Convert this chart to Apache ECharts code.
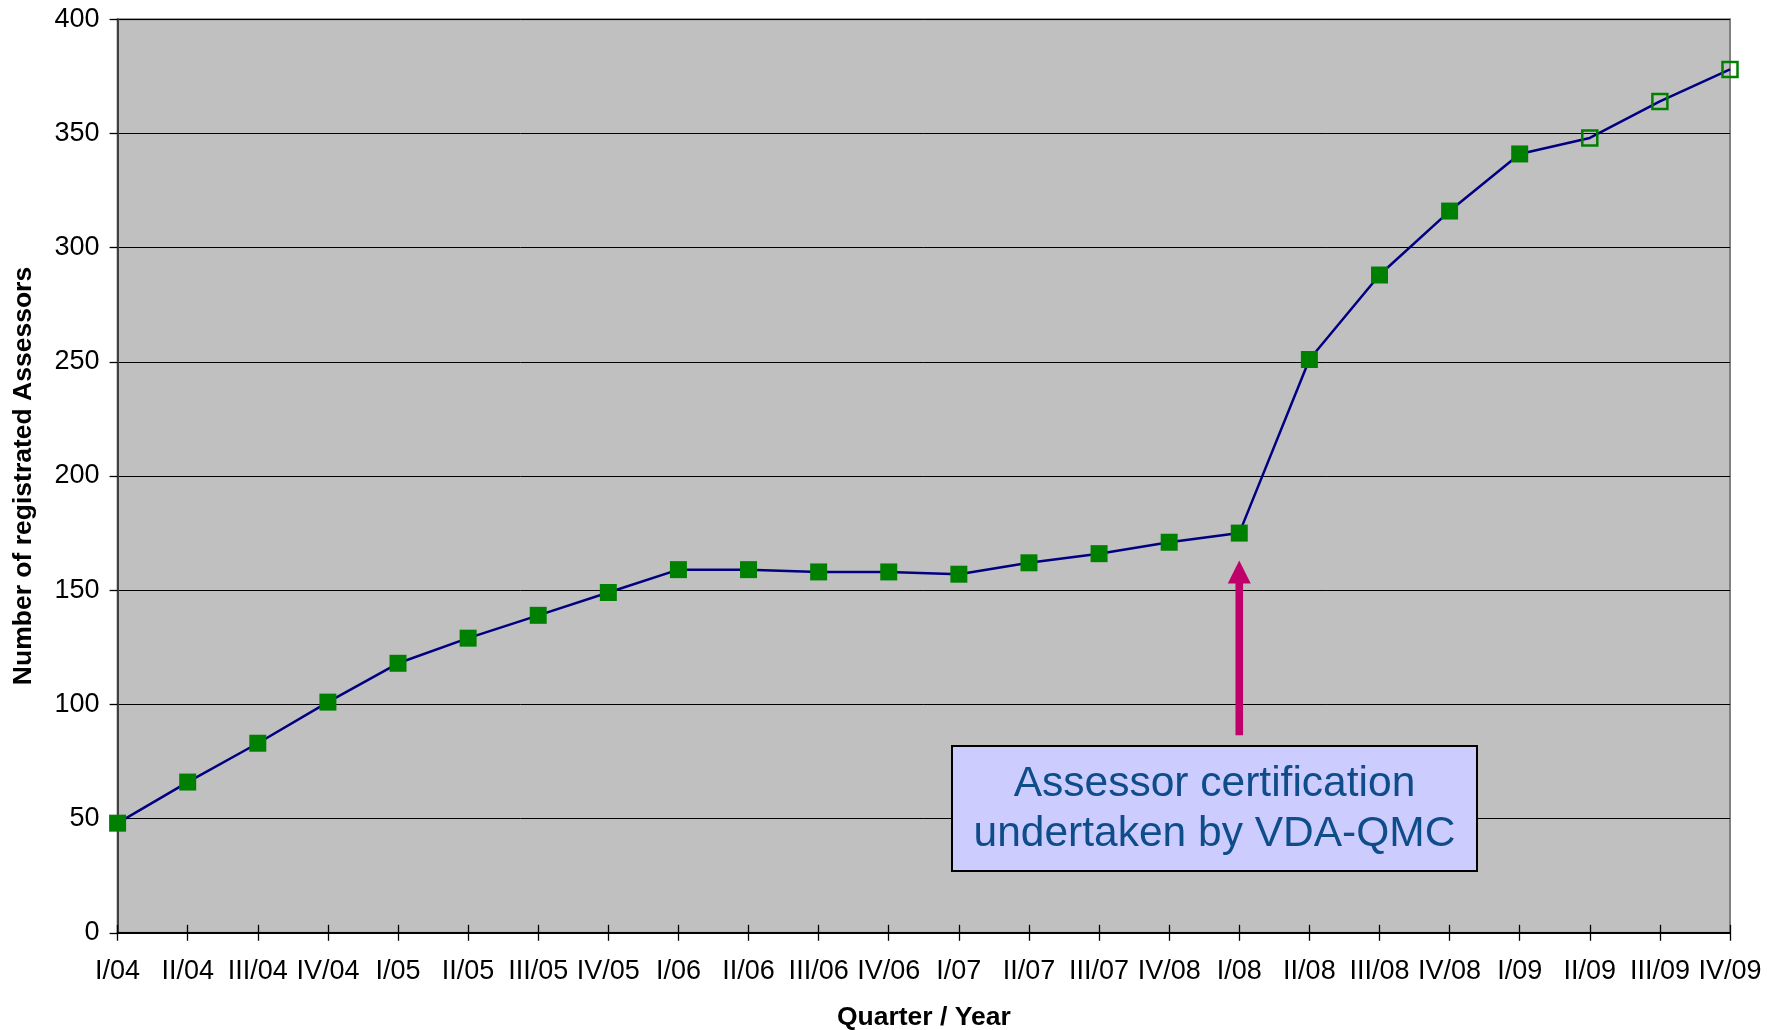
<!DOCTYPE html>
<html>
<head>
<meta charset="utf-8">
<script src="https://cdn.jsdelivr.net/npm/echarts@6/dist/echarts.min.js"></script>
<style>
html,body{margin:0;padding:0;background:#fff;}
#chart{width:1773px;height:1030px;}
</style>
</head>
<body>
<div id="chart"></div>
<script>
var categories = ['I/04','II/04','III/04','IV/04','I/05','II/05','III/05','IV/05','I/06','II/06','III/06','IV/06','I/07','II/07','III/07','IV/08','I/08','II/08','III/08','IV/08','I/09','II/09','III/09','IV/09'];
var assessors = [48,66,83,101,118,129,139,149,159,159,158,158,157,162,166,171,175,251,288,316,341,348,364,378];
var forecast = [false,false,false,false,false,false,false,false,false,false,false,false,false,false,false,false,false,false,false,false,false,true,true,true];
var yTicks = [0,50,100,150,200,250,300,350,400];
var annotationLines = ['Assessor certification','undertaken by VDA-QMC'];
var annotationIndex = 16;

var seriesData = assessors.map(function(v,i){
  if (forecast[i]) {
    return {value:v, itemStyle:{color:'rgba(0,0,0,0)', borderColor:'#008000', borderWidth:2.5}, symbolSize:15};
  }
  return {value:v};
});

var chart = echarts.init(document.getElementById('chart'));
var gridLeft = 117.6, gridRight = 43, gridTop = 19.2, gridBottom = 97.2;
var plotH = 1030 - gridTop - gridBottom;
var FONT = 'Liberation Sans, Arial, sans-serif';

chart.setOption({
  animation:false,
  backgroundColor:'#fff',
  grid:{left:gridLeft,right:gridRight,top:gridTop,bottom:gridBottom,containLabel:false,outerBoundsMode:'none',show:true,backgroundColor:'#C0C0C0',borderColor:'#808080',borderWidth:2},
  xAxis:[{
    type:'category',data:categories,boundaryGap:false,
    axisLine:{lineStyle:{color:'#000',width:2}},
    axisTick:{length:8,lineStyle:{color:'#000',width:1.3},alignWithLabel:true},
    axisLabel:{color:'#000',fontSize:27,fontFamily:FONT,margin:25,interval:0},
    name:'Quarter / Year',nameLocation:'middle',nameGap:71,
    nameTextStyle:{color:'#000',fontSize:26.5,fontWeight:'bold',fontFamily:FONT},
    splitLine:{show:false}
  },{
    type:'category',data:categories,boundaryGap:false,position:'top',offset:-plotH,
    axisLine:{show:false},
    axisTick:{length:8,lineStyle:{color:'#000',width:1.3}},
    axisLabel:{show:false},splitLine:{show:false}
  }],
  yAxis:{
    type:'value',min:yTicks[0],max:yTicks[yTicks.length-1],interval:50,
    axisLine:{show:true,lineStyle:{color:'#404040',width:2}},
    axisTick:{show:true,length:8,lineStyle:{color:'#000',width:1.3}},
    axisLabel:{color:'#000',fontSize:27,fontFamily:FONT,margin:18},
    splitLine:{show:true,lineStyle:{color:'#000',width:1}},
    name:'Number of registrated Assessors',nameLocation:'middle',nameGap:80,
    nameTextStyle:{color:'#000',fontSize:26.5,fontWeight:'bold',fontFamily:FONT}
  },
  series:[{
    type:'line',data:seriesData,xAxisIndex:0,
    symbol:'rect',symbolSize:17,
    lineStyle:{color:'#000080',width:2.5},
    itemStyle:{color:'#008000'},
    z:3
  }]
});

// annotation arrow and box
var p = chart.convertToPixel({xAxisIndex:0,yAxisIndex:0},[annotationIndex,163]);
var pb = chart.convertToPixel({xAxisIndex:0,yAxisIndex:0},[annotationIndex,86.5]);
var ax = p[0], tipY = p[1], baseY = pb[1];
chart.setOption({
  graphic:[
    {type:'rect',shape:{x:ax-3.8,y:tipY+22,width:7.6,height:baseY-tipY-22},style:{fill:'#C0006A'},z:10},
    {type:'polygon',shape:{points:[[ax,tipY],[ax-11.5,tipY+23],[ax+11.5,tipY+23]]},style:{fill:'#C0006A'},z:10},
    {type:'rect',shape:{x:952,y:746,width:525,height:125},style:{fill:'#CCCCFF',stroke:'#000',lineWidth:2},z:10},
    {type:'text',x:1214.5,y:784,style:{text:annotationLines[0],fill:'#0F4C8A',font:'42.5px "Liberation Sans", Arial, sans-serif',align:'center',verticalAlign:'middle'},z:11},
    {type:'text',x:1214.5,y:834,style:{text:annotationLines[1],fill:'#0F4C8A',font:'42.5px "Liberation Sans", Arial, sans-serif',align:'center',verticalAlign:'middle'},z:11}
  ]
});
</script>
</body>
</html>
